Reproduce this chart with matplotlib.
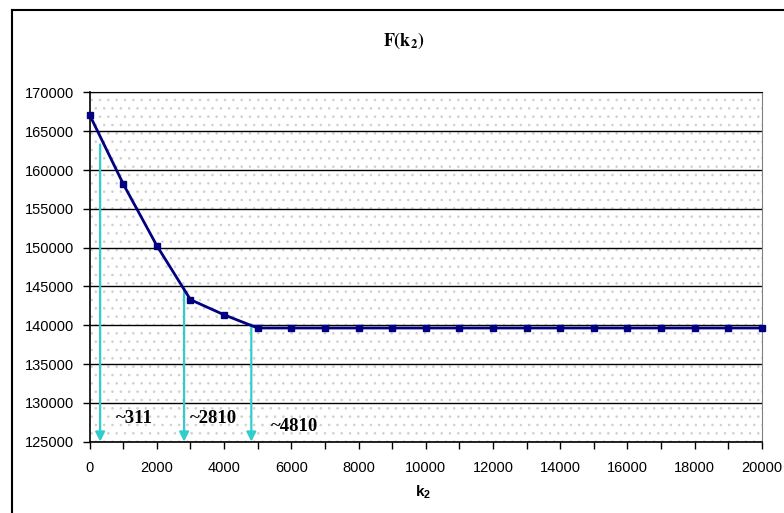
import matplotlib.pyplot as plt
from matplotlib.patches import Rectangle
from matplotlib.lines import Line2D

# dati
k2 = [0, 1000, 2000, 3000, 4000, 5000, 6000, 7000, 8000, 9000, 10000,
      11000, 12000, 13000, 14000, 15000, 16000, 17000, 18000, 19000, 20000]
F = [167100, 158200, 150250, 143300, 141350, 139650, 139650, 139650, 139650,
     139650, 139650, 139650, 139650, 139650, 139650, 139650, 139650, 139650,
     139650, 139650, 139650]

# frecce (posizione, valore di partenza) ed etichette
arrow_x = [311, 2810, 4810]
arrow_top = [163300, 144800, 140100]
arrow_labels = ["~311", "~2810", "~4810"]
label_pos = [(780, 127370), (2990, 127450), (5390, 126420)]

plt.rcParams["hatch.linewidth"] = 0.6
plt.rcParams["mathtext.fontset"] = "custom"
plt.rcParams["mathtext.rm"] = "Liberation Sans"
plt.rcParams["mathtext.bf"] = "Liberation Sans:bold"

fig = plt.figure(figsize=(7.84, 5.13), dpi=100)
ax = fig.add_axes([0.1144, 0.139, 0.8572, 0.6807])

# sfondo punteggiato
bg = Rectangle((0, 0), 1, 1, transform=ax.transAxes, facecolor="white",
               edgecolor="#cfcfcf", linewidth=0, hatch="..", zorder=0)
ax.add_patch(bg)

ax.set_xlim(0, 20000)
ax.set_ylim(125000, 170000)
ax.set_yticks(range(125000, 170001, 5000))
ax.set_xticks(range(0, 20001, 2000))
ax.set_xticks(range(0, 20001, 1000), minor=True)
ax.yaxis.grid(True, color="black", linewidth=1.0)
ax.set_axisbelow(True)

ax.tick_params(axis="both", direction="out", length=5, width=1, pad=6,
               labelsize=10.5, colors="black")
ax.tick_params(axis="x", which="minor", direction="out", length=5, width=1)
ax.tick_params(axis="x", pad=9)
for lab in ax.get_xticklabels() + ax.get_yticklabels():
    lab.set_fontfamily("Liberation Sans")

for s in ["left", "bottom"]:
    ax.spines[s].set_color("black")
    ax.spines[s].set_linewidth(1.2)
ax.spines["right"].set_color("#808080")
ax.spines["top"].set_color("black")

ax.plot(k2, F, color="#000080", linewidth=2, marker="s", markersize=5,
        zorder=5, clip_on=False)

for x, top in zip(arrow_x, arrow_top):
    ax.annotate("", xy=(x, 125000), xytext=(x, top),
                arrowprops=dict(arrowstyle="-|>", color="#33CCCC", lw=1.6,
                                mutation_scale=14, shrinkA=0, shrinkB=0),
                zorder=4)

for txt, (x, y) in zip(arrow_labels, label_pos):
    ax.text(x, y, txt, fontsize=13.5, fontweight="bold",
            fontfamily="Liberation Serif", ha="left", va="baseline")

fig.text(0.515, 0.92, r"$\mathbf{F(k_2)}$", fontsize=13,
         math_fontfamily="stix", ha="center", va="center")
fig.text(0.539, 0.04, r"$\mathbf{k_2}$", fontsize=11,
         math_fontfamily="custom", ha="center", va="center")

# cornice esterna
fig.add_artist(Line2D([12 / 784, 1], [1 - 10 / 513, 1 - 10 / 513],
                      transform=fig.transFigure, color="black", linewidth=1.5))
fig.add_artist(Line2D([12 / 784, 12 / 784], [0, 1 - 10 / 513],
                      transform=fig.transFigure, color="black", linewidth=1.5))

fig.savefig("out.png", dpi=100)
